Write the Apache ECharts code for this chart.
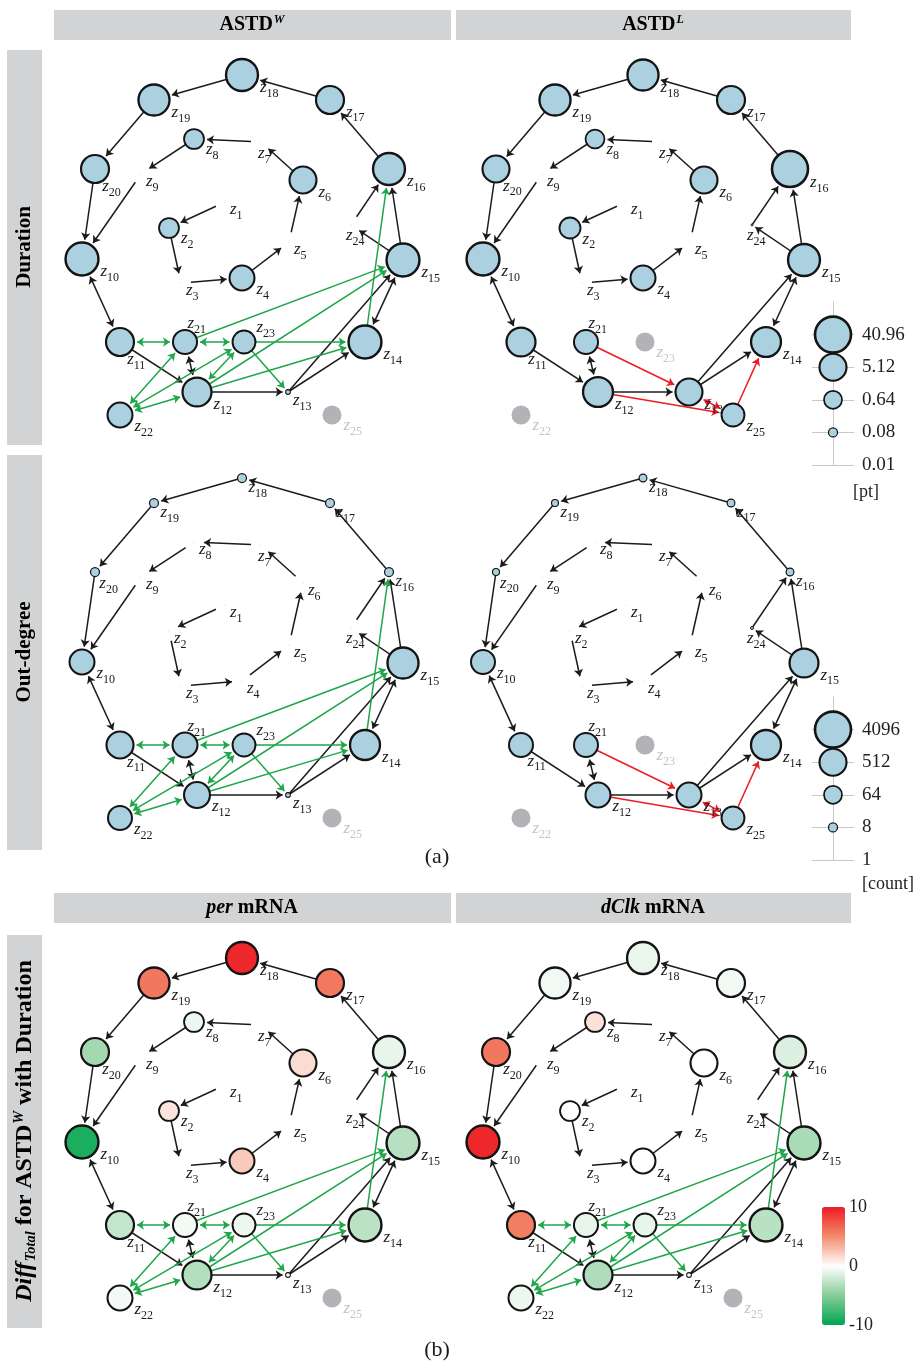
<!DOCTYPE html>
<html>
<head>
<meta charset="utf-8">
<script src="https://cdn.jsdelivr.net/npm/echarts@6/dist/echarts.min.js"></script>
<style>
  html, body { margin: 0; padding: 0; background: #fff; }
  #main { width: 921px; height: 1363px; }
</style>
</head>
<body>
<div id="main"></div>
<script>
// states z1..z25 and their layout position (same layout in every panel)
var nodes = ['z1','z2','z3','z4','z5','z6','z7','z8','z9','z10','z11','z12','z13',
             'z14','z15','z16','z17','z18','z19','z20','z21','z22','z23','z24','z25'];
var nodeX = [225,169,181,242,289,303,261,194,141, 82,120,197,288,365,403,389,330,242,154, 95,185,120,244,351,332];
var nodeY = [202,228,283,278,242,180,142,139,174,259,342,392,392,342,260,169,100, 75,100,169,342,415,342,225,415];

// duration [pt]; null = state not reached (grey)
var durationW = [0.01,1.0,0.01,3.2,0.01,5.1,0.01,1.0,0.01,20,6.4,8.1,0.03,20,20,16,6.4,16,13,6.4,2.6,3.2,2.0,0.01,null];
var durationL = [0.01,1.3,0.01,3.2,0.01,5.1,0.01,0.8,0.01,20,8.1,10,5.1,10,16,41,6.4,13,13,5.1,2.6,null,null,0.016,2.0];
// out-degree [count]
var outdegW = [1,1,1,1,1,1,1,1,1,320,512,400,3,1024,1300,8,8,8,8,8,320,256,200,1,null];
var outdegL = [1,1,1,1,1,1,1,1,1,256,256,320,320,1024,800,6,6,6,5,5,256,null,null,2,200];
// Diff_Total for ASTD^W with duration
var diffPer = [0,1.2,0,2.3,0,1.5,0,-0.8,0,-9,-2.5,-3.1,0,-2.8,-3,-1,5.8,9.5,5.9,-3.8,-0.5,-0.5,-0.7,0,null];
var diffClk = [0,0,0,0,0,0,0,1.3,0,9.5,5.6,-3.3,0,-2.9,-3.5,-1.5,-0.6,-0.9,-0.6,5.9,-1.0,-0.8,-1.0,0,null];

// transitions: [from, to, colour, both directions]
var commonEdges = [
  ['z17','z18','k',0], ['z18','z19','k',0], ['z19','z20','k',0], ['z20','z10','k',0], ['z16','z17','k',0],
  ['z7','z8','k',0], ['z8','z9','k',0], ['z9','z10','k',0], ['z6','z7','k',0], ['z5','z6','k',0],
  ['z4','z5','k',0], ['z3','z4','k',0], ['z2','z3','k',0], ['z1','z2','k',0],
  ['z10','z11','k',1], ['z11','z12','k',0], ['z21','z12','k',1], ['z12','z13','k',0], ['z13','z14','k',0],
  ['z13','z15','k',0], ['z14','z15','k',1], ['z15','z16','k',0], ['z24','z16','k',0], ['z15','z24','k',0]
];
var greenEdges = [
  ['z11','z21','g',1], ['z21','z23','g',1], ['z22','z21','g',1], ['z22','z23','g',1], ['z22','z12','g',1],
  ['z12','z23','g',1], ['z21','z15','g',0], ['z12','z15','g',0], ['z23','z14','g',0], ['z12','z14','g',0],
  ['z23','z13','g',0], ['z14','z16','g',0]
];
var redEdges = [
  ['z21','z13','r',0], ['z12','z25','r',0], ['z13','z25','r',1], ['z25','z14','r',0]
];

var ticksPt = [0.01, 0.08, 0.64, 5.12, 40.96];
var ticksCount = [1, 8, 64, 512, 4096];
var ticksDiff = [-10, 0, 10];

var SERIF = "'Liberation Serif', 'DejaVu Serif', serif";
var BLUE = '#abd0e0';
var GREY = '#b3b3b7';
var edgeColors = { k: '#1b1b1b', g: '#1fa64a', r: '#ec1c24' };
var ARROW = 7;

// where the state label sits relative to its circle (r = radius)
function labelSpot(name, r, active) {
  if (active) {
    if (name === 'z21') return [0.2 * r, -r - 10];
    if (name === 'z23') return [r + 1, -r - 7];
    if (name === 'z11' || name === 'z20') return [0.3 * r + 3, 0.6 * r + 5];
  }
  if (name === 'z7') return [-3, 8];
  if (name === 'z24') return [-5, 7];
  return [Math.max(r + 2, 5), 0.3 * r + 4];
}

function diam(v, base) {
  if (v == null || v <= base) return 0;
  return 3 * Math.log2(v / base);
}

function nodeRich(color) {
  return {
    z: { fontFamily: SERIF, fontStyle: 'italic', fontSize: 17, color: color },
    s: { fontFamily: SERIF, fontSize: 12, color: color, padding: [12, 0, 0, 0] }
  };
}
function nodeLabel(color) {
  return {
    show: true, position: 'inside', align: 'left', verticalAlign: 'middle',
    formatter: function (p) { return '{z|z}{s|' + p.name.slice(1) + '}'; },
    rich: nodeRich(color)
  };
}

var edgesW = commonEdges.concat(greenEdges);
var edgesL = commonEdges.concat(redEdges);
var panels = [
  { col: 0, row: 0, size: durationW, base: 0.01, edges: edgesW },
  { col: 1, row: 0, size: durationL, base: 0.01, edges: edgesL },
  { col: 0, row: 1, size: outdegW, base: 1, edges: edgesW },
  { col: 1, row: 1, size: outdegL, base: 1, edges: edgesL },
  { col: 0, row: 2, size: durationW, base: 0.01, edges: edgesW, diff: diffPer },
  { col: 1, row: 2, size: durationW, base: 0.01, edges: edgesW, diff: diffClk }
];
var colLeft = [50, 451];
var rowTop = [45, 448, 928];
var GREY_D = 19;

var grids = [], xAxes = [], yAxes = [], series = [], diffSeries = [];

panels.forEach(function (p, i) {
  grids.push({ left: colLeft[p.col], top: rowTop[p.row], width: 400, height: 400 });
  xAxes.push({ type: 'value', gridIndex: i, min: 50, max: 450, show: false });
  yAxes.push({ type: 'value', gridIndex: i, min: 45, max: 445, inverse: true, show: false });

  var gNodes = [], act = [], ina = [];
  nodes.forEach(function (n, k) {
    var v = p.size[k];
    var off = v == null;
    var d = off ? GREY_D : diam(v, p.base);
    // invisible node used only to keep the arrow tips off the circle
    gNodes.push({ name: n, value: [nodeX[k], nodeY[k]], symbolSize: d > 0 ? d + 6 : 20 });
    var spot = labelSpot(n, d / 2, !off);
    var item = {
      name: n,
      value: [nodeX[k], nodeY[k], p.diff ? (p.diff[k] || 0) : v],
      symbolSize: d > 0 ? d : 1,
      label: { offset: [spot[0], spot[1] + 4] }
    };
    if (off) {
      ina.push(item);
    } else {
      item.itemStyle = { borderWidth: d > 0 ? 0.8 + 0.05 * d : 0 };
      if (d <= 0) item.itemStyle.borderColor = 'rgba(0,0,0,0)';
      act.push(item);
    }
  });

  var links = p.edges.map(function (e) {
    var src = nodes.indexOf(e[0]);
    var srcShown = diam(p.size[src], p.base) > 0;
    return {
      source: e[0], target: e[1],
      symbol: [e[3] ? 'arrow' : (srcShown ? 'none' : 'circle'), 'arrow'],
      symbolSize: [e[3] ? ARROW : 0.01, ARROW],
      lineStyle: { color: edgeColors[e[2]], width: 1.5, opacity: 1 }
    };
  });

  series.push({
    type: 'graph', coordinateSystem: 'cartesian2d', xAxisIndex: i, yAxisIndex: i,
    z: 1, silent: true, symbol: 'circle',
    itemStyle: { color: 'rgba(0,0,0,0)' },
    edgeSymbol: ['circle', 'arrow'], edgeSymbolSize: [0.01, ARROW],
    lineStyle: { width: 1.5, opacity: 1, curveness: 0 },
    label: { show: false },
    emphasis: { disabled: true },
    data: gNodes, links: links
  });
  var st = {
    type: 'scatter', xAxisIndex: i, yAxisIndex: i, z: 3, silent: true, clip: false,
    itemStyle: { color: BLUE, borderColor: '#141414', opacity: 1 },
    label: nodeLabel('#1a1a1a'),
    emphasis: { disabled: true },
    data: act
  };
  if (p.diff) { delete st.itemStyle.color; diffSeries.push(series.length); }
  series.push(st);
  series.push({
    type: 'scatter', xAxisIndex: i, yAxisIndex: i, z: 3, silent: true, clip: false,
    itemStyle: { color: GREY, borderWidth: 0, opacity: 1 },
    label: nodeLabel('#c4c4c4'),
    emphasis: { disabled: true },
    data: ina
  });
});

// size legends
function addSizeLegend(ticks, base, top) {
  var gi = grids.length;
  grids.push({ left: 812, top: top, width: 42, height: 163 });
  xAxes.push({ type: 'value', gridIndex: gi, min: -1, max: 1, show: false });
  yAxes.push({
    type: 'value', gridIndex: gi, min: 0, max: 5, interval: 1, position: 'left', offset: -21,
    axisLine: { show: true, lineStyle: { color: '#c8c8c8', width: 1 } },
    axisTick: { show: false },
    splitLine: { show: true, showMaxLine: false, lineStyle: { color: '#c8c8c8', width: 1 } },
    axisLabel: {
      inside: true, margin: 29, color: '#222', fontFamily: SERIF, fontSize: 19,
      formatter: function (v) { return v < ticks.length ? String(ticks[v]) : ''; }
    }
  });
  var data = [];
  ticks.forEach(function (t, k) {
    var d = diam(t, base);
    if (d > 0) data.push({ value: [0, k], symbolSize: d, itemStyle: { borderWidth: 0.8 + 0.05 * d } });
  });
  series.push({
    type: 'scatter', xAxisIndex: gi, yAxisIndex: gi, z: 3, silent: true, clip: false,
    itemStyle: { color: BLUE, borderColor: '#141414', opacity: 1 }, data: data
  });
}
addSizeLegend(ticksPt, 0.01, 302);
addSizeLegend(ticksCount, 1, 697);

// colour bar axis
var cb = grids.length;
grids.push({ left: 822, top: 1207, width: 23, height: 118 });
xAxes.push({ type: 'value', gridIndex: cb, min: 0, max: 1, show: false });
yAxes.push({
  type: 'value', gridIndex: cb, min: ticksDiff[0], max: ticksDiff[2], interval: 10, position: 'right',
  axisLine: { show: false }, axisTick: { show: false }, splitLine: { show: false },
  axisLabel: { margin: 4, color: '#222', fontFamily: SERIF, fontSize: 18 }
});

function boxText(x, y, text, rich, rot) {
  return { type: 'text', x: x, y: y, rotation: rot || 0, silent: true,
    style: { text: text, align: 'center', verticalAlign: 'middle', rich: rich } };
}
function headRich(fs) {
  return {
    b: { fontFamily: SERIF, fontWeight: 'bold', fontSize: fs, color: '#1a1a1a' },
    bi: { fontFamily: SERIF, fontWeight: 'bold', fontStyle: 'italic', fontSize: fs, color: '#1a1a1a' },
    sup: { fontFamily: SERIF, fontWeight: 'bold', fontStyle: 'italic', fontSize: fs * 0.6, color: '#1a1a1a', padding: [0, 0, fs * 0.5, 1] },
    sub: { fontFamily: SERIF, fontWeight: 'bold', fontStyle: 'italic', fontSize: fs * 0.6, color: '#1a1a1a', padding: [fs * 0.5, 0, 0, 1] }
  };
}
var hdrRich = headRich(20);
var rowRich = headRich(21);
var diffRich = headRich(24);
var BOX = '#d1d3d4';
var graphics = [
  { type: 'rect', shape: { x: 54, y: 10, width: 397, height: 30 }, style: { fill: BOX }, silent: true },
  { type: 'rect', shape: { x: 456, y: 10, width: 395, height: 30 }, style: { fill: BOX }, silent: true },
  { type: 'rect', shape: { x: 54, y: 893, width: 397, height: 30 }, style: { fill: BOX }, silent: true },
  { type: 'rect', shape: { x: 456, y: 893, width: 395, height: 30 }, style: { fill: BOX }, silent: true },
  { type: 'rect', shape: { x: 7, y: 50, width: 35, height: 395 }, style: { fill: BOX }, silent: true },
  { type: 'rect', shape: { x: 7, y: 455, width: 35, height: 395 }, style: { fill: BOX }, silent: true },
  { type: 'rect', shape: { x: 7, y: 935, width: 35, height: 393 }, style: { fill: BOX }, silent: true },
  boxText(252, 25, '{b|ASTD}{sup|W}', hdrRich),
  boxText(653, 25, '{b|ASTD}{sup|L}', hdrRich),
  boxText(252, 908, '{bi|per}{b| mRNA}', hdrRich),
  boxText(653, 908, '{bi|dClk}{b| mRNA}', hdrRich),
  boxText(25, 247, '{b|Duration}', rowRich, Math.PI / 2),
  boxText(25, 652, '{b|Out-degree}', rowRich, Math.PI / 2),
  boxText(25, 1131, '{bi|Diff}{sub|Total}{b| for ASTD}{sup|W}{b| with Duration}', diffRich, Math.PI / 2),
  { type: 'text', x: 437, y: 857, silent: true, style: { text: '(a)', font: '22px ' + SERIF, fill: '#1a1a1a', align: 'center', verticalAlign: 'middle' } },
  { type: 'text', x: 437, y: 1350, silent: true, style: { text: '(b)', font: '22px ' + SERIF, fill: '#1a1a1a', align: 'center', verticalAlign: 'middle' } },
  { type: 'text', x: 853, y: 492, silent: true, style: { text: '[pt]', font: '18px ' + SERIF, fill: '#222', align: 'left', verticalAlign: 'middle' } },
  { type: 'text', x: 862, y: 884, silent: true, style: { text: '[count]', font: '18px ' + SERIF, fill: '#222', align: 'left', verticalAlign: 'middle' } }
];

var chart = echarts.init(document.getElementById('main'));
chart.setOption({
  animation: false,
  backgroundColor: '#fff',
  grid: grids,
  xAxis: xAxes,
  yAxis: yAxes,
  visualMap: [{
    type: 'continuous', seriesIndex: diffSeries, dimension: 2,
    min: ticksDiff[0], max: ticksDiff[2], calculable: false, hoverLink: false,
    left: 822, top: 1207, itemWidth: 23, itemHeight: 118, padding: 0, text: null,
    inRange: { color: ['#00a651', '#86cc98', '#ffffff', '#f38b6c', '#ed1c24'] }
  }],
  series: series,
  graphic: graphics
});
</script>
</body>
</html>
